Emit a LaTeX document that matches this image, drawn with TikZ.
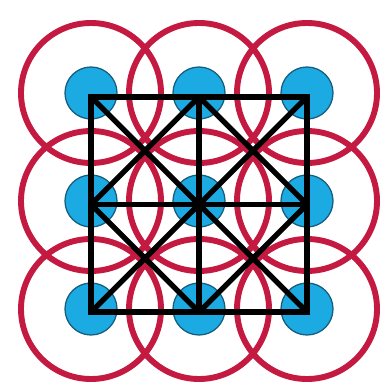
\documentclass[tikz,border=0pt]{standalone}
\usetikzlibrary{positioning}
\definecolor{ringred}{RGB}{196,26,66}
\definecolor{dotblue}{RGB}{28,170,226}
\definecolor{dotedge}{RGB}{22,92,124}

\begin{document}
\begin{tikzpicture}[
		x=0.025cm, y=-0.025cm,
		ring/.style={draw=ringred, line width=4.2pt},
		atom/.style={circle, draw=dotedge, fill=dotblue, line width=0.9pt, minimum size=1.3cm, inner sep=0pt},
		bond/.style={draw=black, line width=3.8pt}
	]
	\fill[white] (0,0) rectangle (385,385);
	\useasboundingbox (0,0) rectangle (385,385);

	% Lage der Kugeln und des Gitters
	\foreach \i in {0,1,2}
		\foreach \j in {0,1,2} {
			\coordinate (c-\i-\j) at ({91+108*\i},{93+108*\j});
			\coordinate (g-\i-\j) at ({91+108*\i},{97+107.5*\j});
		}

	% Ringe
	\foreach \i in {0,1,2}
		\foreach \j in {0,1,2}
			\draw[ring] (c-\i-\j) circle (70);

	% Kugeln
	\foreach \i in {0,1,2}
		\foreach \j in {0,1,2}
			\node[atom] (a-\i-\j) at (c-\i-\j) {};

	% Gitter
	\draw[bond, line join=miter] (g-0-0) -- (g-2-0) -- (g-2-2) -- (g-0-2) -- cycle;
	\draw[bond] (g-1-0) -- (g-1-2);
	\draw[bond] (g-0-1) -- (g-2-1);
	\foreach \i/\k in {0/1,1/2}
		\foreach \j/\l in {0/1,1/2} {
			\draw[bond] (g-\i-\j) -- (g-\k-\l);
			\draw[bond] (g-\k-\j) -- (g-\i-\l);
		}
\end{tikzpicture}
\end{document}
